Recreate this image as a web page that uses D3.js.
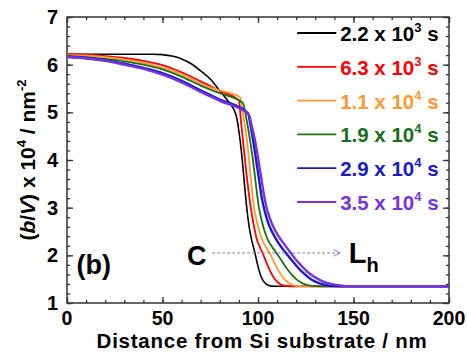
<!DOCTYPE html>
<html>
<head>
<meta charset="utf-8">
<script src="https://cdn.jsdelivr.net/npm/d3@7"></script>
<style>
  body { margin: 0; background: #fff; }
  svg { display: block; font-family: Arial, "Liberation Sans", sans-serif; font-weight: bold; }
</style>
</head>
<body>
<div id="chart"></div>
<script>
// profiles: [distance nm, (b/V) x 10^4 / nm^-2]
const black = [[0,6.22],[30,6.22],[45,6.22],[50,6.21],[55,6.18],[60,6.12],[65,6.02],[70,5.87],[75,5.7],[80,5.45],[85,5.2],[88,5.0],[89,4.86],
  [90,4.6],[90.6,4.42],[92,3.9],[93,3.45],[94.1,3.0],[95.3,2.62],[96.7,2.32],[98.4,2.05],[99.8,1.8],[101.2,1.6],[102.7,1.47],[104.5,1.39],[107,1.355],[111,1.35],[200,1.35]];
const red = [[0,6.22],[10,6.21],[20,6.18],[30,6.14],[40,6.08],[50,5.99],[60,5.84],[70,5.65],[80,5.45],[90,5.25],
  [91,4.85],[92.1,4.42],[94,3.7],[96.2,3.0],[97.7,2.65],[99.3,2.35],[101,2.17],[102.6,2.03],[104.5,1.84],[106.5,1.66],[108.5,1.52],[110.5,1.43],[113,1.37],[117,1.35],[200,1.35]];
const orange = [[0,6.2],[10,6.19],[20,6.16],[30,6.11],[40,6.04],[50,5.94],[60,5.8],[70,5.6],[80,5.46],[90.5,5.32],
  [92,5.0],[94.2,4.42],[96,3.72],[97.9,3.0],[99.5,2.7],[101,2.47],[102.5,2.3],[104.5,2.15],[106.3,2.03],[108.5,1.85],[110.5,1.7],[112.5,1.57],[114.5,1.47],[117,1.4],[120,1.36],[124,1.35],[200,1.35]];
const green = [[0,6.18],[10,6.16],[20,6.12],[30,6.07],[40,6.0],[50,5.9],[60,5.75],[70,5.56],[80,5.4],[92,5.2],
  [94,4.85],[95.8,4.42],[97.5,3.95],[99,3.45],[100.5,3.0],[102,2.72],[103.5,2.5],[105.2,2.32],[107.5,2.17],[110,2.03],[112.5,1.88],[115,1.73],[118,1.58],[121,1.47],[124,1.4],[128,1.36],[133,1.35],[200,1.35]];
const blue = [[0,6.17],[10,6.14],[20,6.09],[30,6.02],[40,5.93],[50,5.82],[60,5.66],[70,5.46],[80,5.27],[94.8,4.98],
  [96,4.75],[97.5,4.4],[99,4.0],[100.5,3.6],[102,3.2],[103.5,2.93],[105,2.72],[107,2.52],[109,2.37],[111,2.24],[113,2.13],[115,2.03],[118,1.88],[121,1.74],[124,1.62],[127,1.52],[130,1.45],[134,1.39],[138,1.36],[143,1.35],[200,1.35]];
const purple = [[0,6.16],[10,6.13],[20,6.08],[30,6.0],[40,5.91],[50,5.79],[60,5.63],[70,5.43],[80,5.24],[95.2,4.95],
  [96.7,4.72],[98.5,4.4],[100,4.05],[101.5,3.68],[103,3.3],[104.5,3.0],[106,2.8],[108,2.6],[110,2.45],[112,2.33],[114,2.22],[116.8,2.07],[120,1.9],[123,1.77],[126,1.65],[129,1.56],[132,1.49],[136,1.42],[141,1.38],[148,1.35],[200,1.35]];

const seriesData = [black, red, orange, green, blue, purple];
const seriesColors = ['#000000', '#ff0000', '#ff9933', '#1a6e1a', '#1a1acc', '#7733dd'];
const seriesWidths = [1.6, 1.8, 1.8, 1.8, 2.4, 2.4];
const legendMant = ['2.2', '6.3', '1.1', '1.9', '2.9', '3.5'];
const legendExp = ['3', '3', '4', '4', '4', '4'];

const xTicks = [0, 50, 100, 150, 200];
const yTicks = [1, 2, 3, 4, 5, 6, 7];

const margin = { top: 17, right: 18, bottom: 49, left: 67 },
      width = 467 - margin.left - margin.right,
      height = 352 - margin.top - margin.bottom;

const svg = d3.select('#chart')
  .append('svg')
  .attr('width', 467)
  .attr('height', 352)
  .append('g')
  .attr('transform', `translate(${margin.left},${margin.top})`);

const x = d3.scaleLinear().domain([0, 200]).range([0, width]);
const y = d3.scaleLinear().domain([1, 7]).range([height, 0]);

const axisColor = '#333';

// minor ticks, all four sides, pointing inward
const xMinor = d3.range(0, 201, 10);
const yMinor = d3.range(1, 7.001, 0.2);
function tickAxis(axisFn, scale, vals, size) {
  return axisFn(scale).tickValues(vals).tickSizeInner(size).tickSizeOuter(0).tickFormat('');
}
function styleAxis(g) {
  g.select('.domain').remove();
  g.selectAll('line').attr('stroke', axisColor).attr('stroke-width', 1.3);
}
svg.append('g').attr('transform', `translate(0,${height})`).call(tickAxis(d3.axisTop, x, xMinor, 3)).call(styleAxis);
svg.append('g').attr('transform', `translate(0,${height})`).call(tickAxis(d3.axisTop, x, xTicks, 6)).call(styleAxis);
svg.append('g').call(tickAxis(d3.axisBottom, x, xMinor, 3)).call(styleAxis);
svg.append('g').call(tickAxis(d3.axisBottom, x, xTicks, 6)).call(styleAxis);
svg.append('g').call(tickAxis(d3.axisRight, y, yMinor, 3)).call(styleAxis);
svg.append('g').call(tickAxis(d3.axisRight, y, yTicks, 6)).call(styleAxis);
svg.append('g').attr('transform', `translate(${width},0)`).call(tickAxis(d3.axisLeft, y, yMinor, 3)).call(styleAxis);
svg.append('g').attr('transform', `translate(${width},0)`).call(tickAxis(d3.axisLeft, y, yTicks, 6)).call(styleAxis);

// frame
svg.append('rect')
  .attr('width', width)
  .attr('height', height)
  .attr('fill', 'none')
  .attr('stroke', axisColor)
  .attr('stroke-width', 1.5);

// tick labels
svg.append('g').selectAll('text')
  .data(xTicks)
  .join('text')
  .attr('x', d => x(d))
  .attr('y', height + 22)
  .attr('text-anchor', 'middle')
  .attr('font-size', 19.5)
  .text(d => d);

svg.append('g').selectAll('text')
  .data(yTicks)
  .join('text')
  .attr('x', -9)
  .attr('y', d => y(d) + 7)
  .attr('text-anchor', 'end')
  .attr('font-size', 20)
  .text(d => d);

// axis titles
svg.append('text')
  .attr('x', width / 2 + 4)
  .attr('y', height + 44.5)
  .attr('text-anchor', 'middle')
  .attr('font-size', 20.5)
  .attr('letter-spacing', 0.75)
  .text('Distance from Si substrate / nm');

const yTitle = svg.append('text')
  .attr('transform', `translate(${-32},${height / 2}) rotate(-90)`)
  .attr('text-anchor', 'middle')
  .attr('font-size', 21);
yTitle.append('tspan').text('(');
yTitle.append('tspan').attr('font-style', 'italic').text('b');
yTitle.append('tspan').text('/');
yTitle.append('tspan').attr('font-style', 'italic').text('V');
yTitle.append('tspan').text(') x 10');
yTitle.append('tspan').attr('font-size', 13).attr('dy', -9).text('4');
yTitle.append('tspan').attr('dy', 9).text(' / nm');
yTitle.append('tspan').attr('font-size', 13).attr('dy', -9).text('-2');

// curves
const line = d3.line()
  .x(d => x(d[0]))
  .y(d => y(d[1]))
  .curve(d3.curveMonotoneX);

seriesData.forEach((data, i) => {
  svg.append('path')
    .datum(data)
    .attr('fill', 'none')
    .attr('stroke', seriesColors[i])
    .attr('stroke-width', seriesWidths[i])
    .attr('d', line);
});

// legend
const legend = svg.append('g');
seriesData.forEach((data, i) => {
  const ly = 16 + i * 33.8;
  legend.append('line')
    .attr('x1', x(120.5)).attr('x2', x(141))
    .attr('y1', ly).attr('y2', ly)
    .attr('stroke', seriesColors[i])
    .attr('stroke-width', 1.8);
  const t = legend.append('text')
    .attr('x', x(143))
    .attr('y', ly + 8)
    .attr('font-size', 20.5)
    .attr('fill', seriesColors[i]);
  t.append('tspan').text(`${legendMant[i]} x 10`);
  t.append('tspan').attr('font-size', 13).attr('dy', -9).text(legendExp[i]);
  t.append('tspan').attr('dy', 9).text(' s');
});

// annotations
svg.append('defs').append('marker')
  .attr('id', 'arrow')
  .attr('viewBox', '0 0 10 10')
  .attr('refX', 9).attr('refY', 5)
  .attr('markerWidth', 8).attr('markerHeight', 8)
  .attr('orient', 'auto')
  .append('path')
  .attr('d', 'M1,1 L9,5 L1,9')
  .attr('fill', 'none')
  .attr('stroke', '#8080b0')
  .attr('stroke-width', 1.2);

svg.append('line')
  .attr('x1', x(76)).attr('x2', x(143))
  .attr('y1', y(2.05)).attr('y2', y(2.05))
  .attr('stroke', '#8080b0')
  .attr('stroke-width', 1)
  .attr('stroke-dasharray', '3,2')
  .attr('marker-end', 'url(#arrow)');

svg.append('text')
  .attr('x', x(73))
  .attr('y', y(2.05) + 12)
  .attr('text-anchor', 'end')
  .attr('font-size', 27)
  .text('C');

const lh = svg.append('text')
  .attr('x', x(147.5))
  .attr('y', y(2.05) + 10)
  .attr('font-size', 29);
lh.append('tspan').text('L');
lh.append('tspan').attr('font-size', 20).attr('dy', 9).text('h');

svg.append('text')
  .attr('x', x(5))
  .attr('y', y(1.6))
  .attr('font-size', 27)
  .text('(b)');
</script>
</body>
</html>
